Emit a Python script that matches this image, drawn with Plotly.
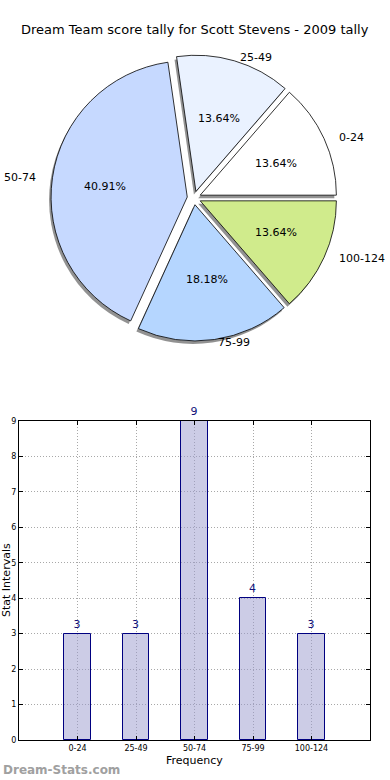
import numpy as np
import plotly.graph_objects as go

W, H = 390, 780

categories = ["0-24", "25-49", "50-74", "75-99", "100-124"]
counts = [3, 3, 9, 4, 3]
pie_colors = ["#ffffff", "#eaf2ff", "#c6d9ff", "#b5d6ff", "#d0eb8c"]
y_ticks = [0, 1, 2, 3, 4, 5, 6, 7, 8, 9]

title_text = "Dream Team score tally for Scott Stevens - 2009 tally"

# layout constants (pixels)
cx, cy = 194, 198
R = 143           # outer reach incl. pull
pull = 0.05
rx, ry = 139, 127  # label ellipse radii

def px(x):
    return x / W

def py(y):
    return 1 - y / H

def dom(cx_, cy_, r_):
    return dict(x=[px(cx_ - r_), px(cx_ + r_)], y=[py(cy_ + r_), py(cy_ - r_)])

total = float(sum(counts))
# plotly: with counterclockwise direction the first slice lies clockwise of `rotation`
rotation = 90 - 360 * counts[0] / total

fig = go.Figure()

# shadow pie
fig.add_trace(go.Pie(
    labels=categories, values=counts, sort=False, direction="counterclockwise",
    rotation=rotation, pull=[pull] * len(counts), textinfo="none", hoverinfo="skip",
    marker=dict(colors=["rgba(110,110,110,0.75)"] * len(counts), line=dict(width=0)),
    domain=dom(cx - 2, cy + 3, R), showlegend=False,
))
# main pie
fig.add_trace(go.Pie(
    labels=categories, values=counts, sort=False, direction="counterclockwise",
    rotation=rotation, pull=[pull] * len(counts), textinfo="none",
    marker=dict(colors=pie_colors, line=dict(color="#000000", width=0.8)),
    domain=dom(cx, cy, R), showlegend=False,
))

annotations = []
cum = np.cumsum([0] + counts)
for i, cat in enumerate(categories):
    mid = np.deg2rad((cum[i] + cum[i + 1]) / 2 / total * 360)
    c, s = np.cos(mid), np.sin(mid)
    pct = counts[i] / total * 100
    annotations.append(dict(
        x=px(cx + 0.65 * rx * c), y=py(cy - 0.65 * ry * s), xref="paper", yref="paper",
        text=f"{pct:.2f}%", showarrow=False, xanchor="center", yanchor="middle",
        font=dict(size=11, color="#000000"),
    ))
    annotations.append(dict(
        x=px(cx + 1.14 * rx * c), y=py(cy - 1.15 * ry * s), xref="paper", yref="paper",
        text=cat, showarrow=False, xanchor="left" if c > 0 else "right", yanchor="middle",
        font=dict(size=11, color="#000000"), borderpad=0,
    ))

# bar chart
fig.add_trace(go.Bar(
    x=categories, y=counts, width=0.45, xaxis="x", yaxis="y",
    marker=dict(color="rgba(153,153,205,0.5)", line=dict(color="#000080", width=1)),
    text=[str(v) for v in counts], textposition="outside", cliponaxis=False,
    textfont=dict(size=11, color="#10107a"), showlegend=False, hoverinfo="skip",
))

annotations.append(dict(
    x=px(6), y=py(580), xref="paper", yref="paper", text="Stat Intervals",
    textangle=-90, showarrow=False, xanchor="center", yanchor="middle",
    font=dict(size=11, color="#000000"),
))
annotations.append(dict(
    x=px(194), y=py(760), xref="paper", yref="paper", text="Frequency",
    showarrow=False, xanchor="center", yanchor="middle",
    font=dict(size=11, color="#000000"),
))
annotations.append(dict(
    x=px(1), y=py(770), xref="paper", yref="paper", text="<b>Dream-Stats.com</b>",
    showarrow=False, xanchor="left", yanchor="middle",
    font=dict(size=12, color="#a0a0a0"),
))
annotations.append(dict(
    x=px(195), y=py(30), xref="paper", yref="paper", text=title_text,
    showarrow=False, xanchor="center", yanchor="middle",
    font=dict(size=13, color="#000000"),
))

axis_common = dict(
    showline=True, linecolor="#000000", linewidth=1, mirror="allticks",
    ticks="inside", ticklen=4, tickcolor="#000000",
    showgrid=True, gridcolor="#a8a8a8", griddash="1px,2px", gridwidth=1,
    zeroline=False, tickfont=dict(size=8, color="#000000"), automargin=False,
)

fig.update_layout(
    width=W, height=H, margin=dict(l=0, r=0, t=0, b=0, autoexpand=False),
    paper_bgcolor="#ffffff", plot_bgcolor="#ffffff",
    font=dict(family="DejaVu Sans"),
    xaxis=dict(domain=[px(19), px(370)], range=[-1, 5], type="category",
               anchor="y", **axis_common),
    yaxis=dict(domain=[py(740), py(421)], range=[0, 9], tickvals=y_ticks,
               anchor="x", **axis_common),
    annotations=annotations,
    bargap=0,
)

fig.write_html(
    "out.html",
    config={"displayModeBar": False},
    post_script="document.body.style.margin='0';document.body.style.overflow='hidden';",
)
